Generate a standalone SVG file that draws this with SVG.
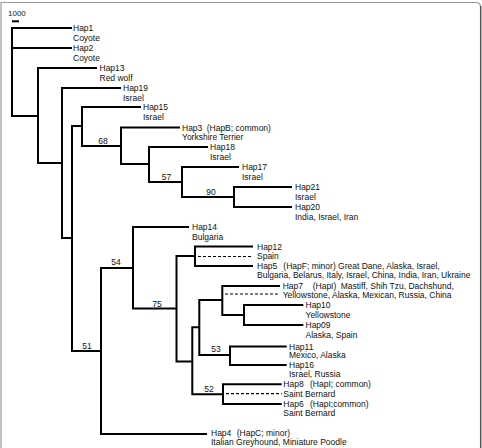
<svg xmlns="http://www.w3.org/2000/svg" width="482" height="448" viewBox="0 0 482 448">
<style>
  .br{fill:none;stroke:#000;stroke-width:2;stroke-linejoin:miter}
  .dash{fill:none;stroke:#000;stroke-width:1.2;stroke-dasharray:3 2}
  text{font-family:"Liberation Sans",Arial,sans-serif;font-size:8.5px;fill:#111}
  .bs{text-anchor:middle}
</style>
<rect width="482" height="448" fill="#fff"/>
<path d="M1,448 V2.5 H476 Q480.5,2.5 480.5,7 V448" fill="none" stroke="#999" stroke-width="1.2"/>
<path d="M480.7,6 V448" stroke="#555" stroke-width="1.4"/>
<g id="scale">
  <text x="8" y="16" style="font-size:8px">1000</text>
  <path d="M12,21.3 H19" stroke="#000" stroke-width="2"/>
</g>
<g id="connectors">
  <path class="br" d="M72,28 H12 V116 H38"/>
  <path class="br" d="M12,48 H72"/>
  <path class="br" d="M97,68 H38 V163 H62"/>
  <path class="br" d="M121,88 H62 V238 H72"/>
  <path class="br" d="M82,126 H72 V351 H101"/>
  <path class="br" d="M141,107 H82 V146 H121"/>
  <path class="br" d="M180,127.5 H121 V164 H149"/>
  <path class="br" d="M208,147 H149 V182 H182"/>
  <path class="br" d="M239,167 H182 V197 H234"/>
  <path class="br" d="M292,187 H234 V207 H292"/>
  <path class="br" d="M133,268 H101 V434 H207"/>
  <path class="br" d="M189,227 H133 V308.5 H176.5"/>
  <path class="br" d="M195,256 H176.5 V361.5 H192.3"/>
  <path class="br" d="M253,246.5 H195 V266 H253"/>
  <path class="dash" d="M198,256.5 H253"/>
  <path class="br" d="M199.3,327.3 H192.3 V394.3 H223"/>
  <path class="br" d="M222.3,300 H199.3 V355 H230"/>
  <path class="br" d="M280,286 H222.3 V315 H244"/>
  <path class="dash" d="M225,294 H280"/>
  <path class="br" d="M303.3,305 H244 V325 H303.3"/>
  <path class="br" d="M286.7,346.5 H230 V365 H286.7"/>
  <path class="br" d="M281.7,384.3 H223 V404 H281.7"/>
  <path class="dash" d="M226,393.7 H281.7"/>
</g>
<g id="bootstrap">
  <text class="bs" x="103" y="144">68</text>
  <text class="bs" x="166.5" y="180">57</text>
  <text class="bs" x="211" y="194.5">90</text>
  <text class="bs" x="116" y="265">54</text>
  <text class="bs" x="87" y="349">51</text>
  <text class="bs" x="157" y="306.5">75</text>
  <text class="bs" x="216" y="352">53</text>
  <text class="bs" x="209" y="392">52</text>
</g>
<g id="hap1"><text x="73" y="31">Hap1</text><text x="73" y="40.5">Coyote</text></g>
<g id="hap2"><text x="73" y="51">Hap2</text><text x="73" y="60.5">Coyote</text></g>
<g id="hap13"><text x="99.5" y="71">Hap13</text><text x="99.5" y="80.5">Red wolf</text></g>
<g id="hap19"><text x="123" y="91">Hap19</text><text x="123" y="100.5">Israel</text></g>
<g id="hap15"><text x="143" y="110">Hap15</text><text x="143" y="119.5">Israel</text></g>
<g id="hap3"><text x="182" y="130.5">Hap3</text><text x="206.7" y="130.5">(HapB; common)</text><text x="182" y="140">Yorkshire Terrier</text></g>
<g id="hap18"><text x="210" y="150">Hap18</text><text x="210" y="159.5">Israel</text></g>
<g id="hap17"><text x="242" y="170">Hap17</text><text x="242" y="179.5">Israel</text></g>
<g id="hap21"><text x="295" y="190">Hap21</text><text x="295" y="199.5">Israel</text></g>
<g id="hap20"><text x="295" y="210">Hap20</text><text x="295" y="219.5">India, Israel, Iran</text></g>
<g id="hap14"><text x="192" y="230">Hap14</text><text x="192" y="239.5">Bulgaria</text></g>
<g id="hap12"><text x="257" y="249.5">Hap12</text><text x="257" y="259">Spain</text></g>
<g id="hap5"><text x="257" y="269">Hap5</text><text x="283.3" y="269">(HapF; minor) Great Dane, Alaska, Israel,</text><text x="257" y="278.2">Bulgaria, Belarus, Italy, Israel, China, India, Iran, Ukraine</text></g>
<g id="hap7"><text x="282.7" y="289">Hap7</text><text x="312.7" y="289">(HapI)</text><text x="340.7" y="289">Mastiff, Shih Tzu, Dachshund,</text><text x="282.7" y="298">Yellowstone, Alaska, Mexican, Russia, China</text></g>
<g id="hap10"><text x="305.5" y="308">Hap10</text><text x="305.5" y="317.5">Yellowstone</text></g>
<g id="hap09"><text x="305.5" y="328">Hap09</text><text x="305.5" y="337.5">Alaska, Spain</text></g>
<g id="hap11"><text x="289" y="349.5">Hap11</text><text x="289" y="358">Mexico, Alaska</text></g>
<g id="hap16"><text x="289" y="368">Hap16</text><text x="289" y="377">Israel, Russia</text></g>
<g id="hap8"><text x="283.3" y="387.3">Hap8</text><text x="310" y="387.3">(HapI; common)</text><text x="283.3" y="396.5">Saint Bernard</text></g>
<g id="hap6"><text x="283.3" y="406.5">Hap6</text><text x="310" y="406.5">(HapI;common)</text><text x="283.3" y="415.7">Saint Bernard</text></g>
<g id="hap4"><text x="211" y="435.5">Hap4</text><text x="236.7" y="435.5">(HapC; minor)</text><text x="211" y="444.5">Italian Greyhound, Miniature Poodle</text></g>
</svg>
